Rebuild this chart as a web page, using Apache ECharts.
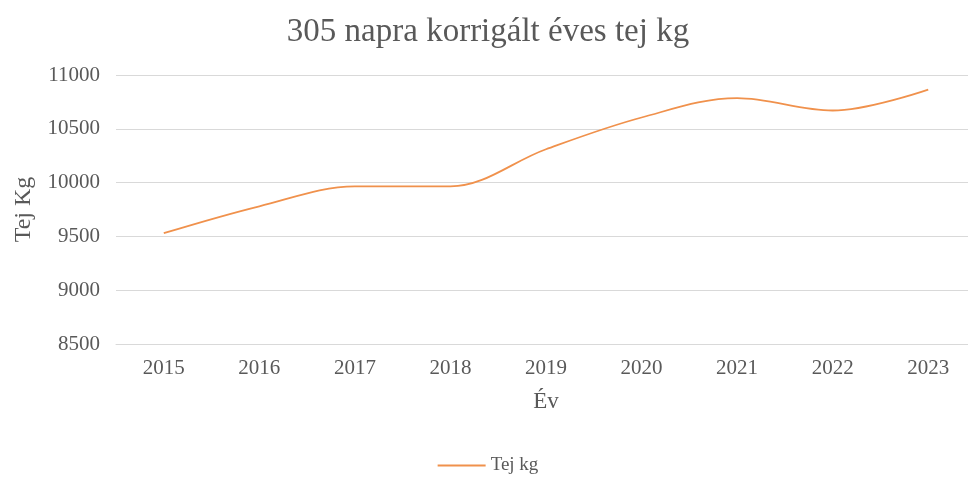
<!DOCTYPE html>
<html>
<head>
<meta charset="utf-8">
<script src="https://cdn.jsdelivr.net/npm/echarts@6/dist/echarts.min.js"></script>
<style>
html, body { margin: 0; padding: 0; background: #fff; overflow: hidden; }
#main { width: 976px; height: 477px; }
</style>
</head>
<body>
<div id="main"></div>
<script>
var years = ['2015', '2016', '2017', '2018', '2019', '2020', '2021', '2022', '2023'];
var milkKg = [9530, 9780, 9965, 9965, 10310, 10605, 10785, 10670, 10865];
var yTicks = { min: 8500, max: 11000, step: 500 };

var chart = echarts.init(document.getElementById('main'));
var font = 'Liberation Serif, Times New Roman, serif';

var option = {
    animation: false,
    textStyle: { fontFamily: font },
    title: {
        text: '305 napra korrigált éves tej kg',
        left: 'center',
        top: 11,
        textStyle: { color: '#595959', fontSize: 33, fontWeight: 'normal', fontFamily: font }
    },
    legend: {
        top: 451,
        left: 'center',
        icon: 'path://M0,0 L48,0 L48,2 L0,2 Z',
        itemWidth: 48,
        itemHeight: 2,
        itemGap: 8,
        textStyle: { color: '#595959', fontSize: 19, fontFamily: font },
        data: ['Tej kg']
    },
    grid: { left: 116, right: 0, top: 75, bottom: 133 },
    xAxis: {
        type: 'category',
        data: years,
        name: 'Év',
        nameLocation: 'middle',
        nameGap: 46,
        nameTextStyle: { color: '#595959', fontSize: 23, fontFamily: font },
        axisLine: { lineStyle: { color: '#d9d9d9', width: 1 } },
        axisTick: { show: false },
        axisLabel: { color: '#595959', fontSize: 21, margin: 14, fontFamily: font }
    },
    yAxis: {
        type: 'value',
        min: yTicks.min,
        max: yTicks.max,
        interval: yTicks.step,
        name: 'Tej Kg',
        nameLocation: 'middle',
        nameGap: 80,
        nameRotate: 90,
        nameTextStyle: { color: '#595959', fontSize: 24, fontFamily: font },
        axisLine: { show: false },
        axisTick: { show: false },
        splitLine: { lineStyle: { color: '#d9d9d9', width: 1 } },
        axisLabel: {
            color: '#595959', fontSize: 21, margin: 16, fontFamily: font,
            formatter: function (v) { return String(v); }
        }
    },
    series: [{
        name: 'Tej kg',
        type: 'line',
        data: milkKg,
        smooth: 0.35,
        showSymbol: false,
        lineStyle: { color: '#F0914C', width: 1.8 },
        itemStyle: { color: '#F0914C' }
    }]
};
chart.setOption(option);
</script>
</body>
</html>
